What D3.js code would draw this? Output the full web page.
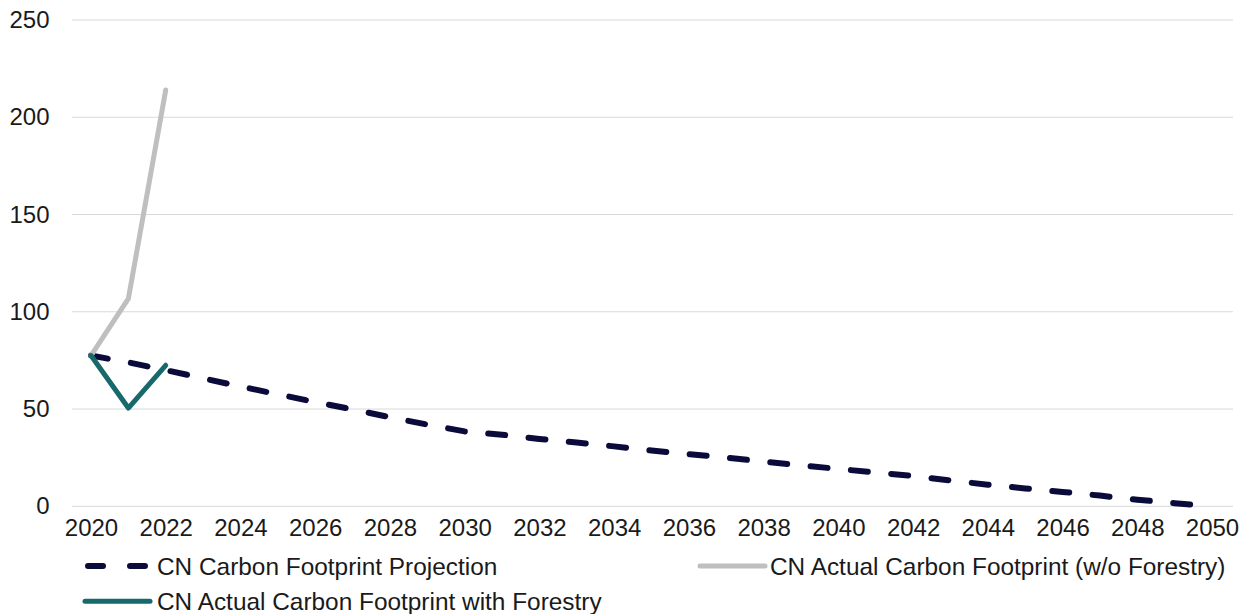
<!DOCTYPE html>
<html>
<head>
<meta charset="utf-8">
<script src="https://cdn.jsdelivr.net/npm/d3@7"></script>
<style>
  html, body { margin: 0; padding: 0; background: #ffffff; }
  svg { display: block; font-family: "Liberation Sans", Arial, sans-serif; }
</style>
</head>
<body>
<svg id="chart" width="1249" height="614"></svg>
<script>
// Years on the category axis
const years = d3.range(2020, 2051);
const xTickLabels = d3.range(2020, 2051, 2);
const yTicks = [0, 50, 100, 150, 200, 250];

// CN Carbon Footprint Projection (2020–2050)
const projection = [
  77.5, 74, 70, 65.8, 61.6, 57.6, 53.6, 49.8, 45.8, 42,
  38.5, 36.8, 34.6, 32.8, 30.8, 28.7, 26.8, 25, 23, 21.1,
  19.2, 17.4, 15.6, 13.3, 11.1, 9.2, 7.4, 5.5, 3.4, 1.6, 0
];
// Actual footprint without forestry, 2020–2022
const actualNoForestry = [77.5, 106.7, 214];
// Actual footprint with forestry, 2020–2022
const actualWithForestry = [77.5, 50.5, 72.5];

const seriesNames = [
  "CN Carbon Footprint Projection",
  "CN Actual Carbon Footprint (w/o Forestry)",
  "CN Actual Carbon Footprint with Forestry"
];

const colors = { projection: "#0b0b3b", gray: "#bfbfbf", teal: "#17696b", grid: "#d9d9d9" };

const svg = d3.select("#chart");
const plot = { left: 72, right: 1233, top: 20, bottom: 506.3 };

const x = d3.scalePoint()
  .domain(years)
  .range([72.3, 1230.7])
  .padding(0.5);

const y = d3.scaleLinear()
  .domain([0, 250])
  .range([plot.bottom, plot.top]);

// Horizontal gridlines
svg.append("g")
  .selectAll("line")
  .data(yTicks)
  .join("line")
  .attr("x1", plot.left)
  .attr("x2", plot.right)
  .attr("y1", d => y(d))
  .attr("y2", d => y(d))
  .attr("stroke", colors.grid)
  .attr("stroke-width", 1);

// Y axis labels
const yAxis = d3.axisLeft(y).tickValues(yTicks).tickSize(0).tickPadding(0);
const gy = svg.append("g").attr("transform", "translate(49.5,0)").call(yAxis);
gy.select(".domain").remove();
gy.selectAll("text")
  .attr("font-size", 24)
  .attr("font-family", "Liberation Sans, Arial, sans-serif")
  .attr("fill", "#1a1a1a");

// X axis labels
const xAxis = d3.axisBottom(x).tickValues(xTickLabels).tickSize(0).tickPadding(0);
const gx = svg.append("g").attr("transform", "translate(0,535.5)").call(xAxis);
gx.select(".domain").remove();
gx.selectAll("text")
  .attr("dy", 0)
  .attr("font-size", 24)
  .attr("font-family", "Liberation Sans, Arial, sans-serif")
  .attr("fill", "#1a1a1a");

const line = d3.line()
  .x((d, i) => x(years[i]))
  .y(d => y(d));

// Projection (dashed)
svg.append("path")
  .datum(projection)
  .attr("d", line)
  .attr("fill", "none")
  .attr("stroke", colors.projection)
  .attr("stroke-width", 6)
  .attr("stroke-linecap", "round")
  .attr("stroke-linejoin", "round")
  .attr("stroke-dasharray", "17 23.5");

// Actual without forestry
svg.append("path")
  .datum(actualNoForestry)
  .attr("d", line)
  .attr("fill", "none")
  .attr("stroke", colors.gray)
  .attr("stroke-width", 5)
  .attr("stroke-linecap", "round")
  .attr("stroke-linejoin", "round");

// Actual with forestry
svg.append("path")
  .datum(actualWithForestry)
  .attr("d", line)
  .attr("fill", "none")
  .attr("stroke", colors.teal)
  .attr("stroke-width", 5)
  .attr("stroke-linecap", "round")
  .attr("stroke-linejoin", "round");

// Legend
const legendItems = [
  { name: seriesNames[0], color: colors.projection, dash: "15 27", width: 6, x: 85, y: 566, tx: 72 },
  { name: seriesNames[1], color: colors.gray, dash: null, width: 5, x: 700, y: 566, tx: 70 },
  { name: seriesNames[2], color: colors.teal, dash: null, width: 5, x: 85, y: 601.3, tx: 72 }
];

const lg = svg.append("g")
  .selectAll("g")
  .data(legendItems)
  .join("g")
  .attr("transform", d => `translate(${d.x},${d.y})`);

lg.append("line")
  .attr("x1", d => d.dash ? 3 : 0)
  .attr("x2", d => d.dash ? 62 : 65)
  .attr("y1", 0)
  .attr("y2", 0)
  .attr("stroke", d => d.color)
  .attr("stroke-width", d => d.width)
  .attr("stroke-linecap", "round")
  .attr("stroke-dasharray", d => d.dash);

lg.append("text")
  .attr("x", d => d.tx)
  .attr("y", 0)
  .attr("dy", "0.35em")
  .attr("font-size", 24.4)
  .attr("fill", "#1a1a1a")
  .text(d => d.name);
</script>
</body>
</html>
